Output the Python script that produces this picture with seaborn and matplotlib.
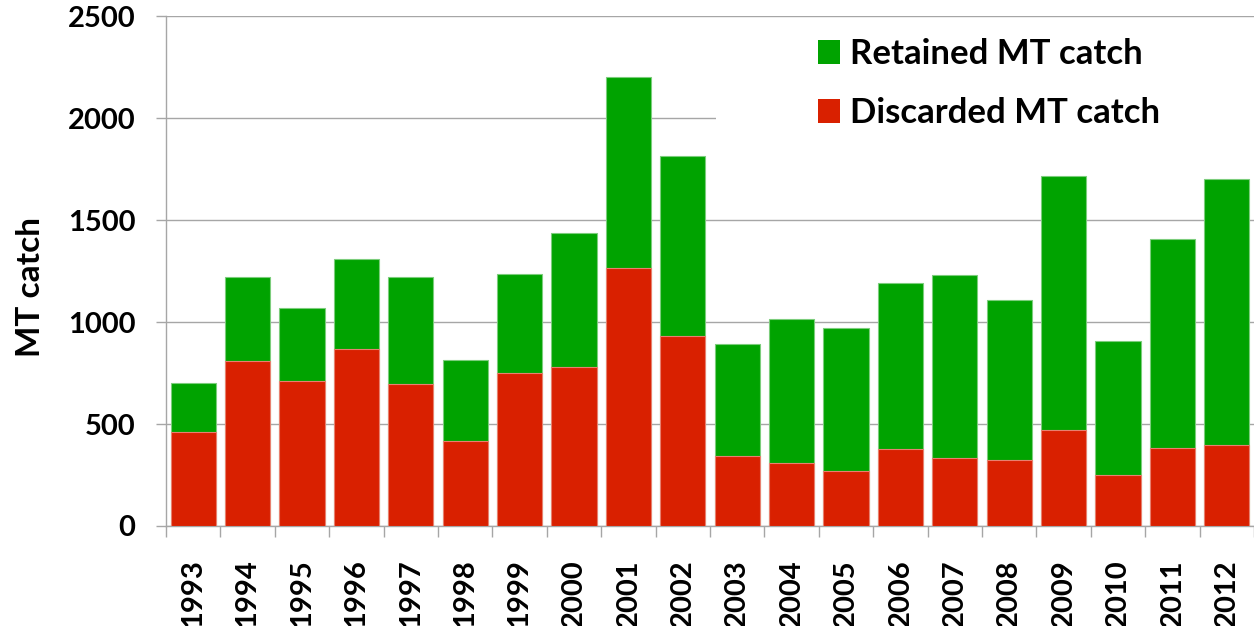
import matplotlib
matplotlib.use("Agg")
import matplotlib.pyplot as plt
import seaborn as sns
import numpy as np
import pandas as pd
from matplotlib.patches import Rectangle, Patch
from matplotlib.ticker import FixedLocator

years = [str(y) for y in range(1993, 2013)]
discarded = [462, 810, 710, 870, 697, 418, 749, 778, 1263, 930,
             342, 310, 268, 376, 332, 322, 471, 248, 381, 399]
retained = [238, 410, 360, 440, 525, 396, 486, 657, 937, 884,
            549, 705, 701, 818, 900, 786, 1248, 660, 1026, 1302]
yticks = [0, 500, 1000, 1500, 2000, 2500]
legend_labels = ["Retained MT catch", "Discarded MT catch"]
ylabel = "MT catch"

GREEN = "#00A300"
RED = "#D92000"
GRID = "#A6A6A6"

sns.set_style("white")
plt.rcParams["font.family"] = ["Lato", "DejaVu Sans"]
plt.rcParams["font.weight"] = "bold"
plt.rcParams["text.color"] = "black"
plt.rcParams["axes.labelcolor"] = "black"
plt.rcParams["xtick.labelcolor"] = "black"
plt.rcParams["ytick.labelcolor"] = "black"

df = pd.DataFrame({"year": years,
                   "discarded": discarded,
                   "retained": retained})
df["total"] = df["discarded"] + df["retained"]

fig = plt.figure(figsize=(12.54, 6.26), dpi=100)
ax = fig.add_axes([166 / 1254, 1 - 526 / 626, 1 - 166 / 1254, (526 - 16.3) / 626])

sns.barplot(data=df, x="year", y="total", color=GREEN, saturation=1,
            width=0.83, ax=ax, edgecolor="#7ccd7c", linewidth=0.8, zorder=2)
sns.barplot(data=df, x="year", y="discarded", color=RED, saturation=1,
            width=0.83, ax=ax, edgecolor="#e8806f", linewidth=0.8, zorder=3)

ax.set_ylim(0, 2500)
ax.set_xlim(-0.5, len(years) - 0.5)
ax.set_yticks(yticks)
ax.set_yticklabels([str(v) for v in yticks])
ax.set_axisbelow(True)
ax.yaxis.grid(True, color=GRID, linewidth=1.0)
ax.xaxis.grid(False)

for s in ["top", "right"]:
    ax.spines[s].set_visible(False)
for s in ["left", "bottom"]:
    ax.spines[s].set_color(GRID)
    ax.spines[s].set_linewidth(1.0)

ax.tick_params(axis="y", which="major", length=7.2, width=1.0, color=GRID,
               pad=15, labelsize=21, direction="out", left=True,
               labelcolor="black")
ax.tick_params(axis="x", which="major", length=0, pad=24, labelsize=21,
               rotation=90, labelcolor="black")
ax.xaxis.set_minor_locator(FixedLocator(np.arange(-0.5, len(years), 1.0)))
ax.tick_params(axis="x", which="minor", length=8, width=1.0, color=GRID,
               direction="out", bottom=True)
for lbl in ax.get_xticklabels():
    lbl.set_va("top")
    lbl.set_fontweight("bold")
for lbl in ax.get_yticklabels():
    lbl.set_fontweight("bold")

ax.set_xlabel("")
ax.set_ylabel(ylabel, fontsize=24, fontweight="bold", color="black")
ax.yaxis.set_label_coords((31 - 166) / 1088, (526 - 287) / 509.7)
ax.yaxis.label.set_va("center")

# white legend background covering the gridline
ax.add_patch(Rectangle(((716 - 166) / 1088, (526 - 200) / 509.7),
                       1.0, 0.33, transform=ax.transAxes,
                       facecolor="white", edgecolor="none", zorder=1))

handles = [Patch(facecolor=GREEN, edgecolor="none"),
           Patch(facecolor=RED, edgecolor="none")]
leg = ax.legend(handles, legend_labels, loc="upper left",
                bbox_to_anchor=((818 - 166) / 1088, (526 - 38) / 509.7),
                frameon=False, handlelength=0.63,
                handleheight=0.66, handletextpad=0.3, labelspacing=0.78,
                borderpad=0, borderaxespad=0,
                prop={"weight": "bold", "size": 25})
for t in leg.get_texts():
    t.set_color("black")

fig.savefig("out.png", dpi=100)
